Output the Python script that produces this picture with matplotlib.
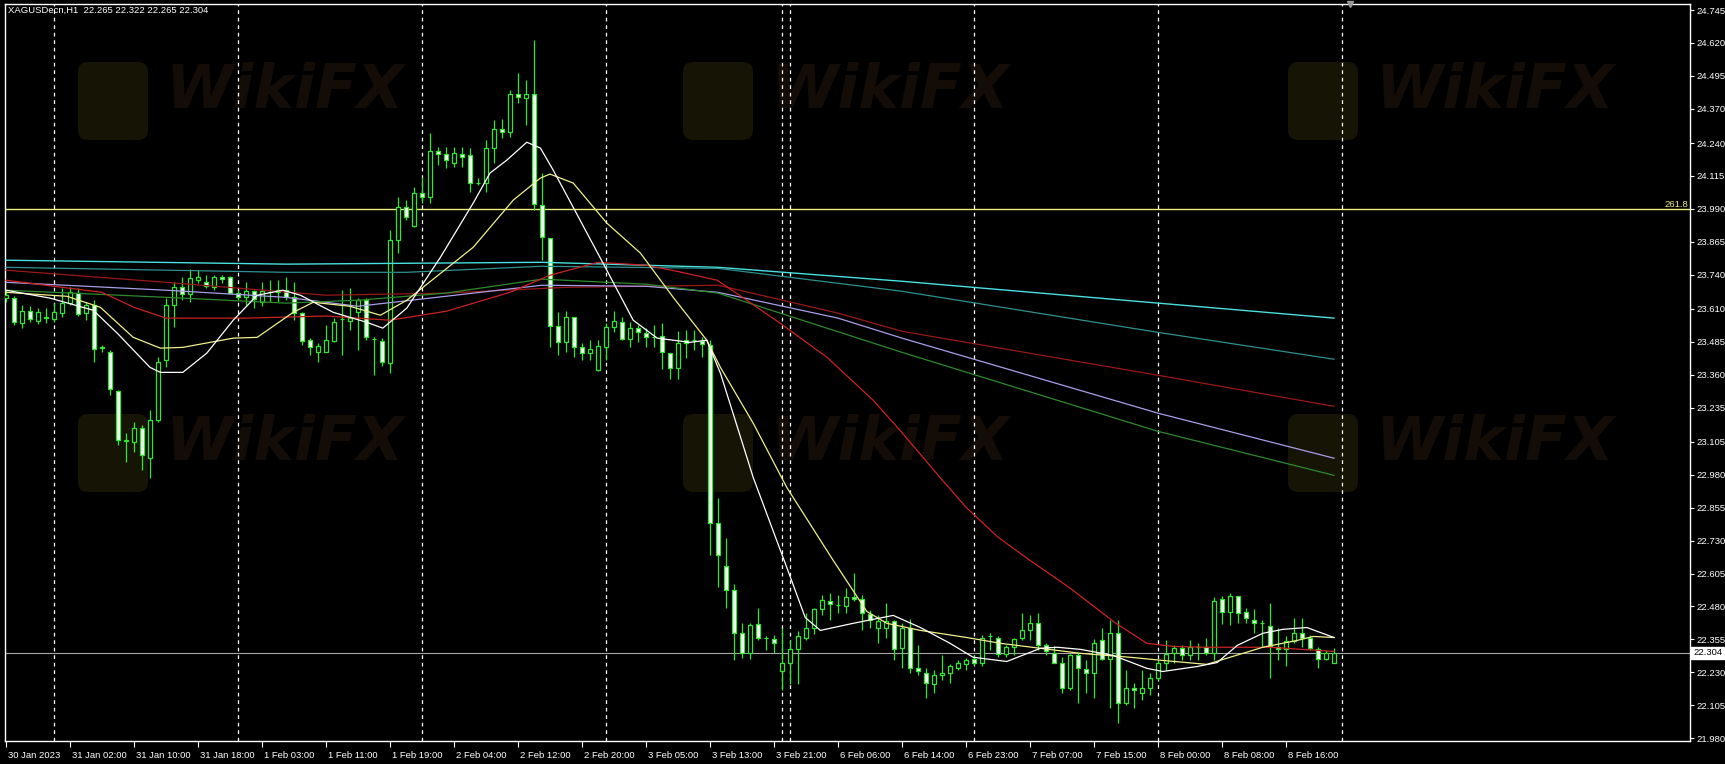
import matplotlib
matplotlib.use("Agg")
import matplotlib.pyplot as plt
import matplotlib.transforms as mtransforms
from matplotlib.patches import FancyBboxPatch
import numpy as np

plt.rcParams['font.family'] = ['Liberation Sans', 'DejaVu Sans']

# ---- candles (XAGUSD H1) ----
opens = [23.651, 23.651, 23.556, 23.601, 23.563, 23.575, 23.571, 23.594, 23.632, 23.670,
         23.594, 23.624, 23.461, 23.445, 23.297, 23.107, 23.103, 23.157, 23.043, 23.187,
         23.415, 23.624, 23.692, 23.666, 23.719, 23.711, 23.692, 23.730, 23.730, 23.670,
         23.654, 23.677, 23.635, 23.673, 23.681, 23.681, 23.654, 23.594, 23.491, 23.445,
         23.445, 23.487, 23.571, 23.563, 23.597, 23.643, 23.495, 23.487, 23.404, 23.871,
         23.996, 23.924, 24.050, 24.034, 24.209, 24.198, 24.164, 24.198, 24.194, 24.088,
         24.088, 24.221, 24.293, 24.281, 24.426, 24.411, 24.426, 24.004, 23.879, 23.544,
         23.483, 23.578, 23.464, 23.442, 23.377, 23.464, 23.540, 23.559, 23.495, 23.537,
         23.518, 23.502, 23.506, 23.442, 23.385, 23.491, 23.491, 23.487, 23.472, 22.796,
         22.632, 22.541, 22.381, 22.302, 22.412, 22.359, 22.355, 22.233, 22.264, 22.317,
         22.362, 22.397, 22.469, 22.499, 22.484, 22.480, 22.514, 22.507, 22.450, 22.400,
         22.397, 22.423, 22.321, 22.397, 22.248, 22.229, 22.184, 22.218, 22.226, 22.248,
         22.260, 22.279, 22.264, 22.366, 22.362, 22.298, 22.325, 22.359, 22.389, 22.416,
         22.332, 22.305, 22.267, 22.169, 22.294, 22.241, 22.229, 22.351, 22.279, 22.378,
         22.115, 22.172, 22.153, 22.169, 22.210, 22.264, 22.302, 22.321, 22.294, 22.325,
         22.325, 22.302, 22.507, 22.458, 22.518, 22.458, 22.427, 22.416, 22.404, 22.325,
         22.317, 22.347, 22.378, 22.362, 22.317, 22.279, 22.265]
highs = [23.681, 23.658, 23.624, 23.620, 23.613, 23.613, 23.632, 23.689, 23.692, 23.689,
         23.635, 23.643, 23.472, 23.453, 23.301, 23.138, 23.180, 23.168, 23.225, 23.426,
         23.651, 23.711, 23.730, 23.761, 23.757, 23.738, 23.738, 23.738, 23.734, 23.681,
         23.711, 23.681, 23.711, 23.719, 23.719, 23.730, 23.711, 23.597, 23.499, 23.480,
         23.548, 23.575, 23.681, 23.689, 23.651, 23.651, 23.502, 23.499, 23.909, 24.034,
         24.023, 24.072, 24.110, 24.278, 24.224, 24.224, 24.224, 24.224, 24.221, 24.107,
         24.251, 24.327, 24.331, 24.441, 24.506, 24.479, 24.631, 24.126, 23.879, 23.597,
         23.601, 23.578, 23.480, 23.491, 23.491, 23.556, 23.601, 23.578, 23.559, 23.548,
         23.537, 23.548, 23.556, 23.442, 23.525, 23.529, 23.529, 23.502, 23.491, 22.891,
         22.739, 22.564, 22.419, 22.416, 22.476, 22.366, 22.370, 22.397, 22.351, 22.385,
         22.454, 22.476, 22.522, 22.530, 22.522, 22.549, 22.606, 22.522, 22.465, 22.446,
         22.492, 22.427, 22.419, 22.431, 22.332, 22.245, 22.237, 22.294, 22.260, 22.275,
         22.283, 22.294, 22.370, 22.381, 22.366, 22.332, 22.362, 22.454, 22.446, 22.454,
         22.343, 22.328, 22.287, 22.298, 22.302, 22.275, 22.355, 22.397, 22.427, 22.427,
         22.237, 22.191, 22.237, 22.226, 22.275, 22.351, 22.332, 22.332, 22.351, 22.343,
         22.362, 22.514, 22.518, 22.530, 22.518, 22.476, 22.469, 22.427, 22.492, 22.400,
         22.366, 22.435, 22.438, 22.370, 22.325, 22.313, 22.322]
lows = [23.635, 23.548, 23.537, 23.559, 23.552, 23.556, 23.559, 23.578, 23.624, 23.582,
        23.567, 23.407, 23.445, 23.282, 23.092, 23.027, 23.065, 22.997, 22.967, 23.179,
        23.388, 23.540, 23.643, 23.635, 23.708, 23.689, 23.681, 23.708, 23.666, 23.643,
        23.624, 23.613, 23.620, 23.635, 23.635, 23.643, 23.567, 23.472, 23.434, 23.407,
        23.445, 23.483, 23.434, 23.529, 23.453, 23.491, 23.358, 23.392, 23.366, 23.822,
        23.947, 23.920, 24.012, 24.012, 24.156, 24.145, 24.148, 24.148, 24.053, 24.080,
        24.053, 24.164, 24.259, 24.262, 24.392, 24.308, 23.985, 23.795, 23.464, 23.434,
        23.445, 23.426, 23.415, 23.415, 23.373, 23.415, 23.521, 23.491, 23.464, 23.483,
        23.464, 23.464, 23.381, 23.343, 23.343, 23.423, 23.453, 23.426, 22.674, 22.552,
        22.476, 22.275, 22.283, 22.279, 22.351, 22.313, 22.305, 22.161, 22.184, 22.184,
        22.351, 22.374, 22.446, 22.427, 22.454, 22.454, 22.499, 22.389, 22.397, 22.340,
        22.362, 22.275, 22.245, 22.226, 22.218, 22.134, 22.153, 22.199, 22.191, 22.237,
        22.237, 22.256, 22.252, 22.313, 22.287, 22.287, 22.294, 22.351, 22.351, 22.313,
        22.294, 22.264, 22.153, 22.161, 22.112, 22.150, 22.131, 22.275, 22.093, 22.036,
        22.104, 22.096, 22.123, 22.142, 22.199, 22.237, 22.264, 22.275, 22.275, 22.275,
        22.294, 22.275, 22.412, 22.408, 22.416, 22.416, 22.381, 22.325, 22.207, 22.275,
        22.252, 22.340, 22.325, 22.313, 22.248, 22.275, 22.265]
closes = [23.662, 23.559, 23.601, 23.571, 23.597, 23.578, 23.597, 23.632, 23.673, 23.590,
          23.624, 23.457, 23.464, 23.305, 23.111, 23.111, 23.157, 23.054, 23.187, 23.407,
          23.624, 23.692, 23.666, 23.727, 23.730, 23.696, 23.730, 23.723, 23.670, 23.654,
          23.677, 23.647, 23.677, 23.673, 23.673, 23.654, 23.594, 23.487, 23.464, 23.468,
          23.491, 23.559, 23.571, 23.575, 23.643, 23.502, 23.495, 23.407, 23.871, 23.996,
          23.958, 24.050, 24.034, 24.209, 24.198, 24.175, 24.202, 24.186, 24.088, 24.088,
          24.221, 24.293, 24.281, 24.426, 24.414, 24.426, 24.008, 23.882, 23.544, 23.483,
          23.578, 23.464, 23.442, 23.457, 23.468, 23.540, 23.563, 23.495, 23.537, 23.521,
          23.502, 23.502, 23.445, 23.385, 23.480, 23.480, 23.491, 23.476, 22.796, 22.674,
          22.541, 22.381, 22.302, 22.408, 22.362, 22.359, 22.343, 22.267, 22.317, 22.366,
          22.397, 22.469, 22.503, 22.488, 22.484, 22.514, 22.507, 22.454, 22.427, 22.423,
          22.423, 22.317, 22.397, 22.245, 22.233, 22.188, 22.218, 22.226, 22.252, 22.267,
          22.275, 22.264, 22.362, 22.366, 22.298, 22.325, 22.355, 22.389, 22.416, 22.332,
          22.309, 22.267, 22.169, 22.294, 22.245, 22.229, 22.343, 22.279, 22.378, 22.115,
          22.172, 22.161, 22.169, 22.210, 22.267, 22.298, 22.321, 22.294, 22.325, 22.325,
          22.302, 22.499, 22.458, 22.518, 22.454, 22.435, 22.416, 22.416, 22.328, 22.317,
          22.347, 22.378, 22.362, 22.321, 22.279, 22.305, 22.304]

# ---- moving averages, sampled along each line (bar index, price) ----
ma_white_idx = [0, 5.5, 10.9, 13.9, 18, 19.3, 22.1, 25.1, 28.4, 31.4, 34.6, 36.8, 40.9, 45.1, 47.1,
                50.1, 54.3, 58.4, 60.5, 62.6, 65.1, 66.8, 68.4, 70.9, 75.1, 78.4, 81.4, 85.5, 87.6,
                89.3, 93.4, 97.6, 99.9, 101.8, 105.9, 110.9, 114.3, 118, 120.9, 125.1, 129.3, 131.4,
                134.3, 138.4, 142.6, 144.6, 148.9, 151.4, 153.9, 157.1, 159.6, 162.6, 166]
ma_white = [23.681, 23.651, 23.605, 23.518, 23.388, 23.369, 23.369, 23.442, 23.567, 23.662, 23.681,
            23.662, 23.597, 23.559, 23.537, 23.613, 23.806, 24.012, 24.126, 24.175, 24.243, 24.221,
            24.137, 23.996, 23.757, 23.567, 23.499, 23.483, 23.491, 23.366, 22.970, 22.628, 22.438,
            22.389, 22.416, 22.446, 22.400, 22.340, 22.287, 22.271, 22.321, 22.325, 22.317, 22.294,
            22.245, 22.233, 22.252, 22.267, 22.332, 22.378, 22.393, 22.400, 22.362]
ma_yellow_idx = [0, 7.6, 11.8, 15.9, 19.3, 22.1, 28.4, 31.4, 35.9, 38.4, 43, 46.8, 50.1, 58.4, 63.4,
                 66.8, 68, 70.9, 75.1, 79.3, 83.4, 87.6, 89.3, 93.4, 97.6, 103.4, 107.6, 110.1, 114.3,
                 120.1, 124.3, 129.3, 134.3, 140.5, 144.6, 150.1, 153, 157.1, 161.4, 163.4, 166]
ma_yellow = [23.673, 23.658, 23.616, 23.502, 23.461, 23.464, 23.499, 23.502, 23.597, 23.635, 23.620,
             23.586, 23.643, 23.844, 24.023, 24.107, 24.122, 24.088, 23.936, 23.822, 23.654, 23.491,
             23.388, 23.176, 22.932, 22.655, 22.461, 22.416, 22.389, 22.362, 22.340, 22.321, 22.302,
             22.287, 22.275, 22.260, 22.287, 22.325, 22.351, 22.366, 22.362]
ma_red_idx = [0, 12, 16, 20, 30, 40, 48, 55, 63, 68, 74, 80, 84, 88.9, 92.5, 96.75, 102.6, 108.4,
              111.75, 116.75, 120, 124, 128, 133, 138.6, 142.6, 146, 150, 158, 166]
ma_red = [23.719, 23.673, 23.616, 23.575, 23.575, 23.583, 23.567, 23.601, 23.673, 23.738, 23.787,
          23.776, 23.752, 23.719, 23.645, 23.556, 23.427, 23.263, 23.149, 22.970, 22.857, 22.743,
          22.655, 22.550, 22.419, 22.340, 22.328, 22.325, 22.325, 22.309]
ma_maroon_idx = [0, 20, 40, 55, 70, 89, 104, 112, 144, 166]
ma_maroon = [23.757, 23.711, 23.662, 23.670, 23.692, 23.700, 23.594, 23.525, 23.358, 23.240]
ma_lavender_idx = [0, 20, 35, 44, 55, 67, 80, 89, 104, 112, 144, 166]
ma_lavender = [23.711, 23.681, 23.654, 23.620, 23.658, 23.700, 23.696, 23.673, 23.575, 23.499, 23.214, 23.043]
ma_green_idx = [0, 20, 35, 44, 55, 67, 80, 89, 112, 144, 166]
ma_green = [23.681, 23.654, 23.632, 23.643, 23.670, 23.723, 23.704, 23.670, 23.445, 23.145, 22.978]
ma_teal_idx = [0, 35, 50, 67, 89, 112, 144, 166]
ma_teal = [23.768, 23.749, 23.749, 23.772, 23.764, 23.677, 23.521, 23.419]
ma_cyan_idx = [0, 35, 67, 89, 112, 144, 166]
ma_cyan = [23.795, 23.780, 23.787, 23.768, 23.715, 23.632, 23.575]

# ---- axis text ----
time_idx = list(range(0, 161, 8))
time_labels = ["30 Jan 2023", "31 Jan 02:00", "31 Jan 10:00", "31 Jan 18:00", "1 Feb 03:00",
               "1 Feb 11:00", "1 Feb 19:00", "2 Feb 04:00", "2 Feb 12:00", "2 Feb 20:00",
               "3 Feb 05:00", "3 Feb 13:00", "3 Feb 21:00", "6 Feb 06:00", "6 Feb 14:00",
               "6 Feb 23:00", "7 Feb 07:00", "7 Feb 15:00", "8 Feb 00:00", "8 Feb 08:00",
               "8 Feb 16:00"]
price_labels = ["24.745", "24.620", "24.495", "24.370", "24.240", "24.115", "23.990", "23.865",
                "23.740", "23.610", "23.485", "23.360", "23.235", "23.105", "22.980", "22.855",
                "22.730", "22.605", "22.480", "22.355", "22.230", "22.105", "21.980"]
separators = [6, 29, 52, 75, 97, 98, 121, 144, 167]
fibo_level = 23.990
fibo_label = "261.8"
last_price = 22.304
header = "XAGUSDecn,H1  22.265 22.322 22.265 22.304"

W, H = 1725, 764
fig = plt.figure(figsize=(W / 100, H / 100), dpi=100, facecolor='black')
ax = fig.add_axes([5 / W, 1 - 741 / H, 1685 / W, 737 / H])
ax.set_facecolor('black')
ax.set_xlim(-0.125, 210.5)
ax.set_ylim(21.969, 24.768)

# faint watermark
for cx in (0, 605, 1210):
    for cy in (100, 452):
        ax.add_patch(FancyBboxPatch((82 + cx, H - cy - 36), 62, 70,
                                    boxstyle="round,pad=4,rounding_size=10",
                                    transform=mtransforms.IdentityTransform(),
                                    facecolor='#161405', edgecolor='none', zorder=0))
        ax.text((165 + cx) / W, 1 - (cy - 8) / H, "WikiFX", transform=fig.transFigure,
                fontsize=44, fontweight='heavy', style='italic', color='#140c06',
                va='center', ha='left', zorder=0, family='DejaVu Sans')

# day separators
for s in separators:
    ax.axvline(s, color='white', lw=0.9, ls=(0, (3, 3)), zorder=1)

# horizontal levels
ax.axhline(fibo_level, color='#eeee80', lw=1, zorder=2)
ax.axhline(last_price, color='#a8a8a8', lw=0.8, zorder=2)

# moving averages
ma_lines = [(ma_cyan_idx, ma_cyan, '#48e0e0', 1.0), (ma_teal_idx, ma_teal, '#2e9090', 0.9),
            (ma_maroon_idx, ma_maroon, '#9a1818', 0.9), (ma_lavender_idx, ma_lavender, '#a89ee8', 0.9),
            (ma_green_idx, ma_green, '#2d8a2d', 0.9), (ma_red_idx, ma_red, '#cc2222', 0.9),
            (ma_yellow_idx, ma_yellow, '#f0f08a', 0.9), (ma_white_idx, ma_white, '#ffffff', 0.9)]
for xi, yv, col, lw in ma_lines:
    ax.plot(xi, yv, color=col, lw=lw, zorder=5)

# candles
o = np.array(opens); h = np.array(highs); l = np.array(lows); c = np.array(closes)
x = np.arange(len(o))
green = '#2ee82e'
ax.vlines(x, l, h, color=green, lw=0.9, zorder=3)
face = np.where(c >= o, 'black', 'white')
ax.bar(x, np.abs(c - o), bottom=np.minimum(o, c), width=0.55, color=face,
       edgecolor=green, linewidth=0.9, zorder=4)

# axes styling
for sp in ax.spines.values():
    sp.set_color('white')
    sp.set_linewidth(1)
ax.yaxis.tick_right()
ax.set_yticks([float(p) for p in price_labels])
ax.set_yticklabels(price_labels)
ax.tick_params(axis='y', colors='white', length=3, width=0.8, pad=2, labelsize=6.8)
ax.set_xticks(time_idx)
ax.set_xticklabels(time_labels, ha='left')
ax.tick_params(axis='x', colors='white', length=4, width=0.8, pad=3, labelsize=6.8)
off = mtransforms.ScaledTranslation(2 / 100, 0, fig.dpi_scale_trans)
for lbl in ax.get_xticklabels():
    lbl.set_transform(lbl.get_transform() + off)

# labels on the chart
ax.text(0.002, 0.997, header, transform=ax.transAxes, color='white', fontsize=6.8,
        va='top', ha='left', zorder=6)
ax.text(0.999, fibo_level, fibo_label, transform=ax.get_yaxis_transform(), color='#eeee80',
        fontsize=6.8, va='bottom', ha='right', zorder=6)
ax.text(1.0 + 3 / 1685, last_price, "22.304", transform=ax.get_yaxis_transform(), color='black',
        fontsize=6.8, va='center', ha='left', zorder=7, clip_on=False,
        bbox=dict(facecolor='white', edgecolor='white', pad=1.2))
ax.plot([168], [24.768], marker='v', color='#9a9a9a', markersize=5, clip_on=False, zorder=7)

fig.savefig("out.png", dpi=100, facecolor='black')
